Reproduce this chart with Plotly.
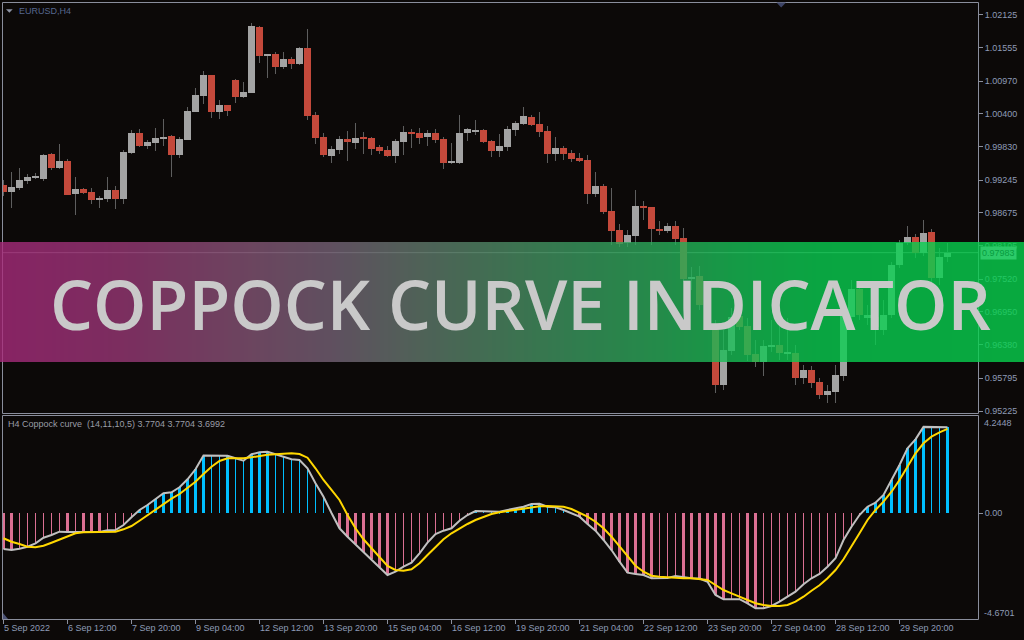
import plotly.graph_objects as go

# ---------------- data ----------------
opens = [0.99161, 0.99044, 0.99114, 0.99231, 0.99283, 0.99265, 0.99701, 0.99462, 0.99579, 0.99004,
         0.99091, 0.99039, 0.98900, 0.98917, 0.99074, 0.98917, 0.99718, 1.00066, 0.99840, 0.99892,
         0.99962, 1.00014, 0.99683, 0.99945, 1.00432, 1.00711, 1.01077, 1.00432, 1.00554, 1.00990,
         1.00693, 1.00763, 1.01912, 1.01407, 1.01442, 1.01216, 1.01355, 1.01268, 1.01547, 1.00380,
         0.99997, 0.99666, 0.99770, 0.99962, 0.99892, 0.99979, 0.99979, 0.99823, 0.99770, 0.99666,
         0.99910, 1.00084, 1.00066, 0.99997, 1.00066, 0.99962, 0.99544, 0.99544, 1.00066, 1.00101,
         1.00119, 0.99927, 0.99753, 0.99823, 1.00119, 1.00223, 1.00345, 1.00223, 1.00101, 0.99701,
         0.99805, 0.99718, 0.99631, 0.99596, 0.99004, 0.99144, 0.98708, 0.98377, 0.98151, 0.98273,
         0.98795, 0.98778, 0.98395, 0.98360, 0.98447, 0.98238, 0.97524, 0.97576, 0.97089, 0.96723,
         0.95678, 0.96270, 0.96880, 0.96705, 0.96218, 0.96078, 0.96340, 0.96375, 0.96218, 0.96235,
         0.95800, 0.95939, 0.95730, 0.95504, 0.95556, 0.95835, 0.96862, 0.97350, 0.96845, 0.96862,
         0.96636, 0.96897, 0.97768, 0.98151, 0.98255, 0.97977, 0.98342, 0.97541, 0.97907]
highs = [0.99248, 0.99387, 0.99457, 0.99352, 0.99370, 0.99701, 0.99718, 0.99875, 0.99614, 0.99300,
         0.99109, 0.99109, 0.98969, 0.99300, 0.99144, 0.99770, 1.00119, 1.00136, 0.99945, 1.00154,
         1.00310, 1.00032, 0.99997, 1.00519, 1.00850, 1.01146, 1.01077, 1.00641, 1.00554, 1.01007,
         1.00955, 1.01982, 1.01930, 1.01442, 1.01477, 1.01477, 1.01390, 1.01564, 1.01878, 1.00432,
         1.00066, 0.99840, 1.00014, 1.00101, 1.00241, 1.00084, 0.99997, 0.99858, 0.99840, 0.99962,
         1.00188, 1.00136, 1.00154, 1.00119, 1.00136, 0.99997, 0.99892, 1.00380, 1.00154, 1.00293,
         1.00136, 0.99945, 1.00049, 1.00188, 1.00275, 1.00519, 1.00380, 1.00432, 1.00188, 0.99997,
         0.99840, 0.99770, 0.99718, 0.99683, 0.99387, 0.99178, 0.99109, 0.98482, 0.98377, 0.99074,
         0.98882, 0.98778, 0.98534, 0.98499, 0.98534, 0.98412, 0.97733, 0.97750, 0.97158, 0.96810,
         0.96636, 0.97019, 0.97054, 0.96845, 0.96462, 0.96462, 0.96810, 0.96810, 0.96845, 0.96375,
         0.96026, 0.96009, 0.95800, 0.95678, 0.96026, 0.97071, 0.97507, 0.97419, 0.97071, 0.97158,
         0.97158, 0.97820, 0.98203, 0.98447, 0.98308, 0.98551, 0.98395, 0.98064, 0.98151]
lows = [0.98969, 0.98766, 0.99074, 0.99178, 0.99265, 0.99231, 0.99422, 0.99445, 0.98987, 0.98639,
        0.99004, 0.98830, 0.98760, 0.98865, 0.98743, 0.98830, 0.99701, 0.99823, 0.99788, 0.99753,
        0.99840, 0.99300, 0.99631, 0.99945, 1.00432, 1.00572, 1.00328, 1.00310, 1.00363, 1.00589,
        1.00676, 1.00763, 1.01286, 1.01024, 1.01094, 1.01181, 1.01181, 1.01251, 1.00293, 0.99875,
        0.99649, 0.99544, 0.99701, 0.99579, 0.99788, 0.99701, 0.99683, 0.99701, 0.99649, 0.99544,
        0.99683, 0.99805, 0.99875, 0.99840, 0.99892, 0.99440, 0.99527, 0.99527, 0.99927, 1.00032,
        0.99892, 0.99649, 0.99649, 0.99753, 1.00014, 1.00206, 1.00188, 0.99997, 0.99544, 0.99579,
        0.99596, 0.99561, 0.99561, 0.98830, 0.98952, 0.98656, 0.98116, 0.98081, 0.98081, 0.98116,
        0.98551, 0.98116, 0.98290, 0.98325, 0.98116, 0.97472, 0.97332, 0.96984, 0.96810, 0.95539,
        0.95591, 0.96200, 0.96636, 0.96096, 0.95991, 0.95835, 0.96253, 0.96113, 0.96113, 0.95678,
        0.95695, 0.95626, 0.95434, 0.95364, 0.95364, 0.95748, 0.96810, 0.96810, 0.96723, 0.96375,
        0.96549, 0.96845, 0.97715, 0.98116, 0.97890, 0.97924, 0.97419, 0.97419, 0.97820]
closes = [0.99044, 0.99126, 0.99248, 0.99300, 0.99318, 0.99683, 0.99462, 0.99579, 0.98987, 0.99091,
          0.99022, 0.98900, 0.98935, 0.99074, 0.98917, 0.99736, 1.00066, 0.99840, 0.99910, 0.99979,
          0.99997, 0.99683, 0.99962, 1.00450, 1.00728, 1.01077, 1.00432, 1.00554, 1.00450, 1.00693,
          1.00781, 1.01930, 1.01407, 1.01442, 1.01216, 1.01355, 1.01268, 1.01547, 1.00363, 0.99979,
          0.99683, 0.99788, 0.99962, 0.99910, 0.99979, 0.99962, 0.99788, 0.99753, 0.99666, 0.99927,
          1.00084, 1.00049, 0.99979, 1.00066, 0.99945, 0.99544, 0.99561, 1.00066, 1.00136, 1.00119,
          0.99910, 0.99753, 0.99840, 1.00136, 1.00241, 1.00363, 1.00206, 1.00084, 0.99701, 0.99805,
          0.99701, 0.99614, 0.99579, 0.99004, 0.99144, 0.98691, 0.98360, 0.98133, 0.98290, 0.98795,
          0.98760, 0.98395, 0.98360, 0.98447, 0.98221, 0.97524, 0.97559, 0.97071, 0.96880, 0.95678,
          0.96287, 0.96862, 0.96688, 0.96200, 0.96078, 0.96357, 0.96375, 0.96235, 0.96253, 0.95800,
          0.95939, 0.95713, 0.95504, 0.95573, 0.95852, 0.97036, 0.97350, 0.96897, 0.96897, 0.96688,
          0.96897, 0.97768, 0.98151, 0.98255, 0.97977, 0.98325, 0.97541, 0.97907, 0.97983]

coppock = [-1.566, -1.610, -1.553, -1.465, -1.316, -1.070, -0.952, -0.805, -0.815, -0.805,
           -0.810, -0.815, -0.820, -0.746, -0.732, -0.513, -0.175, 0.145, 0.364, 0.614,
           0.877, 0.921, 1.140, 1.491, 1.930, 2.530, 2.520, 2.510, 2.520, 2.412,
           2.307, 2.588, 2.675, 2.702, 2.588, 2.482, 2.368, 2.338, 1.974, 1.316,
           0.728, 0.013, -0.658, -1.026, -1.360, -1.684, -2.018, -2.342, -2.706, -2.561,
           -2.342, -2.167, -1.754, -1.289, -0.908, -0.763, -0.658, -0.325, -0.075, 0.101,
           0.100, 0.098, 0.070, 0.145, 0.219, 0.289, 0.408, 0.420, 0.289, 0.263,
           0.145, 0.004, -0.149, -0.469, -0.763, -1.171, -1.610, -2.123, -2.605, -2.662,
           -2.706, -2.851, -2.845, -2.840, -2.750, -2.807, -2.851, -2.860, -3.000, -3.583,
           -3.772, -3.770, -3.768, -3.947, -4.167, -4.160, -4.066, -3.877, -3.658, -3.439,
           -3.114, -2.851, -2.662, -2.342, -1.974, -1.171, -0.588, -0.075, 0.289, 0.465,
           0.803, 1.461, 2.118, 2.851, 3.246, 3.790, 3.780, 3.760, 3.7704]
signal = [-1.096, -1.246, -1.346, -1.465, -1.491, -1.421, -1.289, -1.140, -0.996, -0.877,
          -0.833, -0.820, -0.820, -0.820, -0.807, -0.702, -0.557, -0.325, -0.075, 0.145,
          0.408, 0.640, 0.846, 1.096, 1.386, 1.724, 2.044, 2.294, 2.412, 2.412,
          2.412, 2.456, 2.526, 2.570, 2.588, 2.601, 2.632, 2.601, 2.439, 1.974,
          1.461, 1.022, 0.583, -0.075, -0.658, -1.140, -1.535, -1.904, -2.311, -2.487,
          -2.518, -2.456, -2.193, -1.829, -1.465, -1.140, -0.877, -0.658, -0.469, -0.294,
          -0.149, -0.031, 0.044, 0.101, 0.145, 0.189, 0.246, 0.307, 0.320, 0.320,
          0.289, 0.189, 0.026, -0.149, -0.368, -0.658, -1.026, -1.465, -1.904, -2.298,
          -2.561, -2.737, -2.781, -2.807, -2.838, -2.851, -2.851, -2.882, -2.925, -3.145,
          -3.364, -3.509, -3.658, -3.803, -3.947, -4.022, -4.066, -4.066, -4.022, -3.877,
          -3.658, -3.395, -3.158, -2.851, -2.487, -2.018, -1.465, -0.877, -0.294, 0.145,
          0.509, 0.947, 1.461, 2.044, 2.632, 3.070, 3.360, 3.553, 3.6992]

date_ticks = [0, 8, 16, 24, 32, 40, 48, 56, 64, 72, 80, 88, 96, 104, 112]
date_labels = ["5 Sep 2022", "6 Sep 12:00", "7 Sep 20:00", "9 Sep 04:00", "12 Sep 12:00",
               "13 Sep 20:00", "15 Sep 04:00", "16 Sep 12:00", "19 Sep 20:00", "21 Sep 04:00",
               "22 Sep 12:00", "23 Sep 20:00", "27 Sep 04:00", "28 Sep 12:00", "29 Sep 20:00"]
price_ticks = [1.02125, 1.01555, 1.00970, 1.00400, 0.99830, 0.99245, 0.98675,
               0.98105, 0.97520, 0.96950, 0.96380, 0.95795, 0.95225]
ind_max, ind_min = 4.2448, -4.6701
current_price = 0.97983

# ---------------- style ----------------
BG = "#0c0908"
FRAME = "#8a8e9c"
AXTXT = "#8e9bb6"
UP, DN, WICK = "#a3a3a3", "#c4493b", "#5e5e5e"
BLUE, PINK = "#00bfff", "#db7093"
FONT = "Liberation Sans"

W, H = 1024, 640
L, R, T, B = 3, 46, 3, 21
PW, PH = W - L - R, H - T - B


def px2x(px):
    return (px - L) / PW


def py2y(py):
    return (H - B - py) / PH


n = len(closes)
idx = list(range(n))

fig = go.Figure()

# wicks and bodies
fig.add_trace(go.Bar(x=idx, base=lows, y=[h - l for h, l in zip(highs, lows)], width=0.125,
                     marker=dict(color=WICK, line=dict(width=0)), xaxis="x", yaxis="y",
                     hoverinfo="skip"))
fig.add_trace(go.Bar(x=idx, base=[min(o, c) for o, c in zip(opens, closes)],
                     y=[max(abs(c - o), 0.00018) for o, c in zip(opens, closes)], width=0.875,
                     marker=dict(color=[UP if c >= o else DN for o, c in zip(opens, closes)],
                                 line=dict(width=0)),
                     xaxis="x", yaxis="y", hoverinfo="skip"))

# histogram
hw, hc = [], []
prev = 0.0
for v in coppock:
    grow = (v > 0 and v > prev) or (v < 0 and v < prev)
    hw.append(0.375 if grow else 0.125)
    hc.append(BLUE if v >= 0 else PINK)
    prev = v
fig.add_trace(go.Bar(x=idx, y=coppock, base=0, width=hw,
                     marker=dict(color=hc, line=dict(width=0)), xaxis="x", yaxis="y2",
                     hoverinfo="skip"))
fig.add_trace(go.Scatter(x=idx, y=coppock, mode="lines", line=dict(color="#c0c0c0", width=2),
                         xaxis="x", yaxis="y2", hoverinfo="skip"))
fig.add_trace(go.Scatter(x=idx, y=signal, mode="lines", line=dict(color="#ffd700", width=2),
                         xaxis="x", yaxis="y2", hoverinfo="skip"))

shapes = []
# frames
shapes.append(dict(type="rect", xref="paper", yref="paper", x0=px2x(2.5), x1=px2x(978.5),
                   y0=py2y(413.5), y1=py2y(2.5), line=dict(color=FRAME, width=1), layer="below"))
shapes.append(dict(type="rect", xref="paper", yref="paper", x0=px2x(2.5), x1=px2x(978.5),
                   y0=py2y(619.5), y1=py2y(415.5), line=dict(color=FRAME, width=1), layer="below"))
# current price line
shapes.append(dict(type="line", xref="paper", yref="y", x0=px2x(3), x1=px2x(978),
                   y0=current_price, y1=current_price, line=dict(color="#707070", width=1),
                   layer="below"))
# small markers
shapes.append(dict(type="path", xref="paper", yref="paper",
                   path=f"M{px2x(776.5)},{py2y(2.5)} L{px2x(786)},{py2y(2.5)} L{px2x(781.2)},{py2y(7.5)} Z",
                   fillcolor="#3d4466", line=dict(width=0), layer="below"))
shapes.append(dict(type="path", xref="paper", yref="paper",
                   path=f"M{px2x(6)},{py2y(9.3)} L{px2x(12.7)},{py2y(9.3)} L{px2x(9.35)},{py2y(12.7)} Z",
                   fillcolor="#8d93a4", line=dict(width=0), layer="below"))
shapes.append(dict(type="path", xref="paper", yref="paper",
                   path=f"M{px2x(3)},{py2y(613)} L{px2x(3)},{py2y(619)} L{px2x(8)},{py2y(619)} Z",
                   fillcolor="#4c5275", line=dict(width=0), layer="below"))

# banner gradient (observed colours, composited at alpha)
ALPHA = 0.8
bg_rgb = (12, 9, 8)
stops = [(0, (136, 36, 100)), (120, (124, 46, 96)), (250, (108, 70, 96)), (330, (96, 80, 96)),
         (420, (80, 98, 88)), (500, (64, 112, 82)), (580, (48, 126, 78)), (660, (36, 140, 74)),
         (740, (20, 156, 70)), (820, (10, 166, 66)), (1024, (8, 170, 64))]


def col_at(px):
    for (a, ca), (b, cb) in zip(stops[:-1], stops[1:]):
        if a <= px <= b:
            t = (px - a) / (b - a)
            obs = [ca[k] + (cb[k] - ca[k]) * t for k in range(3)]
            pre = [max(0, min(255, (obs[k] - (1 - ALPHA) * bg_rgb[k]) / ALPHA)) for k in range(3)]
            return "rgb(%d,%d,%d)" % tuple(round(v) for v in pre)
    return "rgb(8,170,64)"


STEP = 4
for x0 in range(0, W, STEP):
    shapes.append(dict(type="rect", xref="paper", yref="paper", x0=px2x(x0), x1=px2x(x0 + STEP),
                       y0=py2y(362), y1=py2y(242), fillcolor=col_at(x0 + STEP / 2),
                       line=dict(width=0), opacity=ALPHA, layer="above"))

annotations = [
    dict(text="EURUSD,H4", xref="paper", yref="paper", x=px2x(17), y=py2y(10.8),
         xanchor="left", yanchor="middle", showarrow=False,
         font=dict(family=FONT, size=9, color="#56678f")),
    dict(text="H4 Coppock curve \u00a0(14,11,10,5) 3.7704 3.7704 3.6992", xref="paper", yref="paper",
         x=px2x(6), y=py2y(424.3), xanchor="left", yanchor="middle", showarrow=False,
         font=dict(family=FONT, size=9, color="#9a9da6")),
    dict(text="%.4f" % ind_max, xref="paper", yref="paper", x=px2x(982), y=py2y(422.7),
         xanchor="left", yanchor="middle", showarrow=False, font=dict(family=FONT, size=9, color=AXTXT)),
    dict(text="%.4f" % ind_min, xref="paper", yref="paper", x=px2x(982), y=py2y(612.7),
         xanchor="left", yanchor="middle", showarrow=False, font=dict(family=FONT, size=9, color=AXTXT)),
    dict(text="%.5f" % current_price, xref="paper", yref="y", x=px2x(980), y=current_price,
         xanchor="left", yanchor="middle", showarrow=False, bgcolor="#2ccb69", borderpad=1,
         font=dict(family=FONT, size=9, color="#079c40")),
    dict(text="COPPOCK CURVE INDICATOR", xref="paper", yref="paper", x=px2x(520.5), y=py2y(303.5),
         xanchor="center", yanchor="middle", showarrow=False,
         font=dict(family="Open Sans", size=68, weight=600, color="#c9c9c9")),
]

axfont = dict(family=FONT, size=9, color=AXTXT)
fig.update_layout(
    width=W, height=H, margin=dict(l=L, r=R, t=T, b=B, pad=0),
    paper_bgcolor=BG, plot_bgcolor=BG, barmode="overlay", bargap=0, showlegend=False,
    xaxis=dict(domain=[0, 1], range=[-0.0625, 121.8125], anchor="y2", tickmode="array",
               tickvals=date_ticks, ticktext=date_labels, ticks="outside", ticklen=4,
               tickcolor=FRAME, tickfont=axfont, ticklabelposition="outside right",
               showgrid=False, zeroline=False, showline=False, fixedrange=True),
    yaxis=dict(domain=[py2y(412), 1], range=[0.952077, 1.023305], side="right", anchor="x",
               tickmode="array", tickvals=price_ticks, ticktext=["%.5f" % p for p in price_ticks],
               ticks="outside", ticklen=4, tickcolor=FRAME, tickfont=axfont,
               showgrid=False, zeroline=False, showline=False, fixedrange=True),
    yaxis2=dict(domain=[0, py2y(414)], range=[-4.636, 4.355], side="right", anchor="x",
                tickmode="array", tickvals=[0], ticktext=["0.00"], ticks="outside", ticklen=4,
                tickcolor=FRAME, tickfont=axfont, showgrid=False, zeroline=False,
                showline=False, fixedrange=True),
    shapes=shapes, annotations=annotations,
)

fig.write_html("out.html", config={"displayModeBar": False},
               post_script="document.body.style.margin='0';document.body.style.overflow='hidden';")
